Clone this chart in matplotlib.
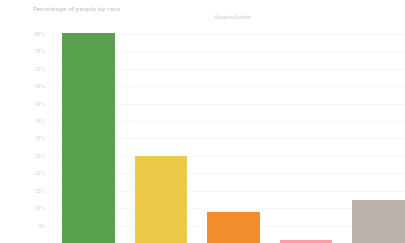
import matplotlib
matplotlib.use("Agg")
import matplotlib.pyplot as plt

categories = ["White", "Black", "Asian", "Native", "Other"]
values = [60.3, 25.0, 8.9, 0.8, 12.4]
colors = ["#59a14f", "#edc948", "#f28e2b", "#ff9da7", "#bab0ac"]
yticks = [0, 5, 10, 15, 20, 25, 30, 35, 40, 45, 50, 55, 60]
ytick_labels = [f"{v}%" for v in yticks]

fig = plt.figure(figsize=(4.05, 2.43), dpi=100)
ax = fig.add_axes([50/405, 0.0, 355/405, 1 - 20/243])

x = list(range(len(categories)))
ax.bar(x, values, width=0.73, color=colors)
ax.set_xlim(-0.531, 4.366)
ax.set_ylim(0, 64)
ax.set_yticks(yticks[1:])
ax.set_yticklabels(ytick_labels[1:], fontsize=3.5, color="#cfcfcf")
ax.tick_params(axis="y", length=0, pad=3)
ax.set_xticks([])
ax.grid(axis="y", color="#f6f6f6", linewidth=0.5)
ax.set_axisbelow(True)
for s in ax.spines.values():
    s.set_visible(False)

fig.text(33/405, 1 - 9/243, "Percentage of people by race", fontsize=4.2,
         color="#b5b5b5", va="center", ha="left")
fig.text(232/405, 1 - 18/243, "Hispanic/Latino", fontsize=3.5,
         color="#c5c5c5", va="center", ha="center")

fig.savefig("out.png", dpi=100)
